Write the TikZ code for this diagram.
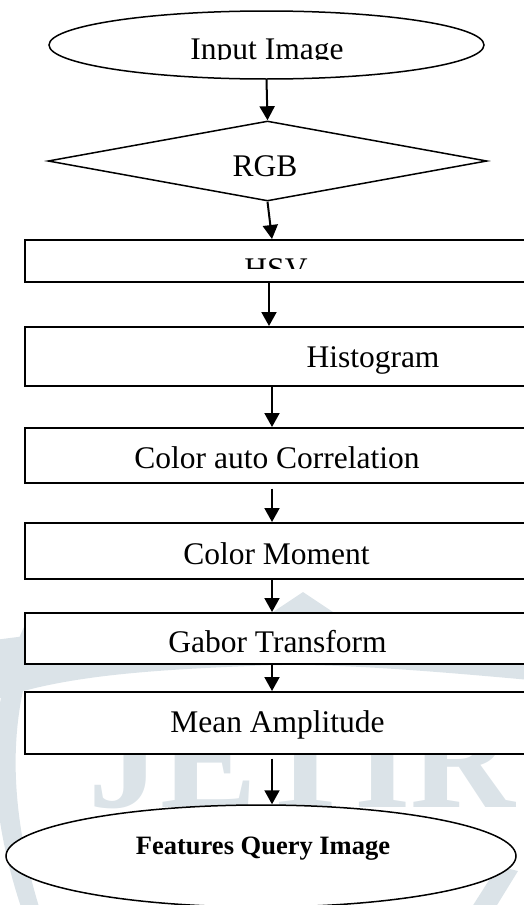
\documentclass[tikz,border=0pt]{standalone}
\usepackage{fontspec}
\setmainfont{Liberation Serif}
\usetikzlibrary{shapes.geometric,arrows.meta,calc}
\definecolor{wm}{RGB}{219,227,232}
\begin{document}
\begin{tikzpicture}[x=1pt,y=-1pt,
  box/.style={draw=black, line width=1.6pt, fill=white, rectangle, inner sep=0pt, anchor=north west, minimum width=530pt},
  oval/.style={draw=black, line width=1.5pt, fill=white, ellipse, inner sep=0pt},
  rhomb/.style={draw=black, line width=1.5pt, fill=white, diamond, inner sep=0pt},
  arr/.style={-{Triangle[width=15pt,length=14pt]}, line width=2pt},
  lbl/.style={anchor=base, inner sep=0pt, font=\fontsize{31.5}{36}\selectfont},
  blbl/.style={anchor=base, inner sep=0pt, font=\bfseries\fontsize{26.5}{30}\selectfont},
]
\useasboundingbox (0,0) rectangle (524,905);
\clip (0,0) rectangle (524,905);

% watermark
\fill[wm] (-5,640) .. controls (100,625) and (230,625) .. (270,614) -- (303,592) -- (336,614)
  .. controls (400,625) and (480,635) .. (530,642) -- (530,680)
  .. controls (420,670) and (320,662) .. (250,666)
  .. controls (150,670) and (60,676) .. (-5,700) -- cycle;
\fill[wm] (30,615) .. controls (-15,700) and (-15,800) .. (22,910) -- (40,910)
  .. controls (6,800) and (6,700) .. (50,615) -- cycle;
\fill[wm] (470,910) -- (498,866) -- (518,871) -- (494,910) -- cycle;
\node[anchor=base west, inner sep=0pt, text=wm, font=\bfseries\fontsize{145}{150}\selectfont] (wmark) at (88,807) {JETIR};

% shapes
\node[oval, minimum width=435pt, minimum height=68pt] (in) at (266.5,45) {};
\node[rhomb, minimum width=439pt, minimum height=80pt] (rgb) at (267.5,161) {};
\node[box, minimum height=42pt] (hsv) at (24,239) {};
\node[box, minimum height=59pt] (hist) at (24,326) {};
\node[box, minimum height=55pt] (cac) at (24,427) {};
\node[box, minimum height=56pt] (cm) at (24,522) {};
\node[box, minimum height=51pt] (gab) at (24,612) {};
\node[box, minimum height=62pt] (mean) at (24,691) {};
\node[oval, minimum width=510pt, minimum height=102pt] (out) at (261,856) {};

% labels
\begin{scope}
  \clip (0,0) rectangle (524,59.5);
  \node[lbl] (tin) at (267,59) {Input Image};
\end{scope}
\node[lbl] (trgb) at (265,176) {RGB};
\begin{scope}
  \clip (0,250) rectangle (524,268);
  \node[lbl] (thsv) at (276,279) {HSV};
\end{scope}
\node[lbl] (thist) at (373,367) {Histogram};
\node[lbl] (tcac) at (277,468) {Color auto Correlation};
\node[lbl] (tcm) at (276.5,564) {Color Moment};
\node[lbl] (tgab) at (277.5,652) {Gabor Transform};
\node[lbl] (tmean) at (277.5,732) {Mean Amplitude};
\node[blbl] (tout) at (263,854) {Features Query Image};

% connectors
\coordinate (ax1) at (269,0);
\coordinate (ax2) at (272,0);
\draw[arr] (in.south) -- (rgb.north);
\draw[arr] (rgb.south) -- (hsv.north -| ax2);
\draw[arr] (hsv.south -| ax1) -- (hist.north -| ax1);
\draw[arr] (hist.south -| ax2) -- (cac.north -| ax2);
\draw[arr] ($(cac.south -| ax2)+(0,5)$) -- (cm.north -| ax2);
\draw[arr] (cm.south -| ax2) -- (gab.north -| ax2);
\draw[arr] (gab.south -| ax2) -- (mean.north -| ax2);
\draw[arr] ($(mean.south -| ax2)+(0,4)$) -- (out.north -| ax2);
\end{tikzpicture}
\end{document}
